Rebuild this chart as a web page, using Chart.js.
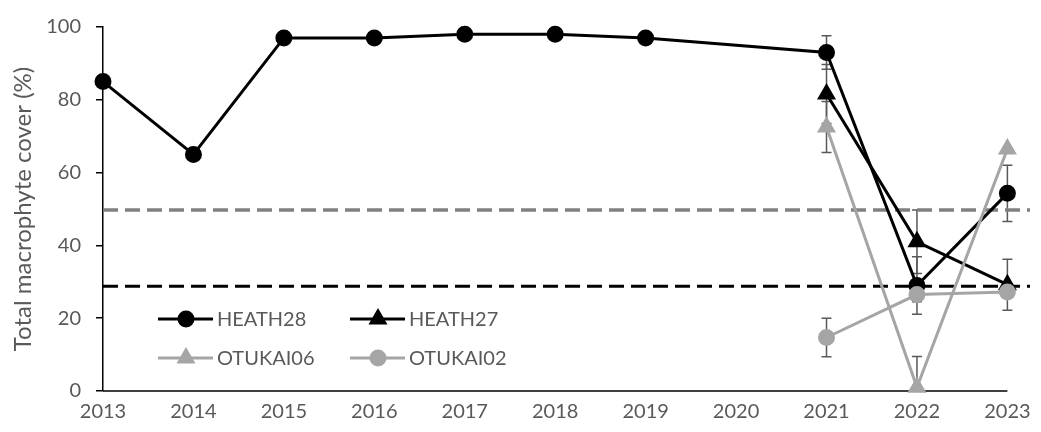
<!DOCTYPE html>
<html>
<head>
<meta charset="utf-8">
<script src="https://cdn.jsdelivr.net/npm/chart.js@4/dist/chart.umd.min.js"></script>
<style>
  html, body { margin: 0; padding: 0; background: #fff; }
  #wrap { width: 1041px; height: 432px; position: relative; }
</style>
</head>
<body>
<div id="wrap"><canvas id="chart"></canvas></div>
<script>
// data
const years = [2013, 2014, 2015, 2016, 2017, 2018, 2019, 2020, 2021, 2022, 2023];
const heath28 = [85, 65, 97, 97, 98, 98, 97, null, 93, 29, 54.3];
const heath28Err = [null, null, null, null, null, null, null, null, 4.6, 7.9, 7.7];
const heath27 = [null, null, null, null, null, null, null, null, 81.6, 41, 29.2];
const heath27Err = [null, null, null, null, null, null, null, null, 8.1, 8.7, 7];
const otukai06 = [null, null, null, null, null, null, null, null, 72.5, 1, 66.5];
const otukai06Err = [null, null, null, null, null, null, null, null, 7, 8.5, 0];
const otukai02 = [null, null, null, null, null, null, null, null, 14.7, 26.5, 27.2];
const otukai02Err = [null, null, null, null, null, null, null, null, 5.3, 2, 1];
const greyLimit = 49.7;
const blackLimit = 28.8;
const yTicks = [0, 20, 40, 60, 80, 100];

const BLACK = '#000000';
const GREY = '#a5a5a5';
const TEXT = '#595959';
const FONT = 'Lato, "Open Sans", sans-serif';

function pts(vals) {
  const out = [];
  vals.forEach((v, i) => { if (v !== null) out.push({ x: years[i], y: v }); });
  return out;
}
function flat(v) {
  return [{ x: years[0], y: v }, { x: years[years.length - 1] + 0.25, y: v }];
}

const series = [
  { label: 'HEATH28', vals: heath28, err: heath28Err, color: BLACK, style: 'circle', r: 7, order: 2 },
  { label: 'HEATH27', vals: heath27, err: heath27Err, color: BLACK, style: 'triangle', r: 8, order: 1 },
  { label: 'OTUKAI06', vals: otukai06, err: otukai06Err, color: GREY, style: 'triangle', r: 8, order: 0 },
  { label: 'OTUKAI02', vals: otukai02, err: otukai02Err, color: GREY, style: 'circle', r: 7, order: -1 }
];

const datasets = series.map(s => ({
  label: s.label,
  data: pts(s.vals),
  borderColor: s.color,
  backgroundColor: s.color,
  pointBackgroundColor: s.color,
  pointBorderColor: s.color,
  pointStyle: s.style,
  pointRadius: s.r,
  borderWidth: 3,
  order: s.order,
  clip: false
}));
datasets.push({
  label: 'limitGrey', data: flat(greyLimit), borderColor: '#808080', borderWidth: 3.5,
  borderDash: [15, 7], pointRadius: 0, order: 10, clip: false
});
datasets.push({
  label: 'limitBlack', data: flat(blackLimit), borderColor: BLACK, borderWidth: 3,
  borderDash: [15, 7], pointRadius: 0, order: 9, clip: false
});

// error bars (below the lines) and the x axis line up to the last year
const errorBars = {
  id: 'errorBars',
  beforeDatasetsDraw(chart) {
    const ctx = chart.ctx;
    const xs = chart.scales.x, ys = chart.scales.y;
    ctx.save();
    ctx.strokeStyle = TEXT;
    ctx.lineWidth = 1.5;
    series.forEach(s => {
      s.err.forEach((e, i) => {
        if (!e) return;
        const v = s.vals[i];
        const px = xs.getPixelForValue(years[i]);
        const top = ys.getPixelForValue(v + e);
        const bot = ys.getPixelForValue(Math.max(v - e, 0));
        ctx.beginPath();
        ctx.moveTo(px, top); ctx.lineTo(px, bot);
        ctx.moveTo(px - 5, top); ctx.lineTo(px + 5, top);
        if (v - e > 0) { ctx.moveTo(px - 5, bot); ctx.lineTo(px + 5, bot); }
        ctx.stroke();
      });
    });
    ctx.strokeStyle = BLACK;
    ctx.lineWidth = 1.5;
    ctx.beginPath();
    ctx.moveTo(xs.getPixelForValue(years[0]), ys.getPixelForValue(0));
    ctx.lineTo(xs.getPixelForValue(years[years.length - 1]), ys.getPixelForValue(0));
    ctx.stroke();
    ctx.restore();
  }
};

// legend inside the plot
const insideLegend = {
  id: 'insideLegend',
  afterDraw(chart) {
    const ctx = chart.ctx;
    const spots = [[158, 319], [350, 319], [158, 358], [350, 358]];
    ctx.save();
    series.forEach((s, n) => {
      const [x0, y0] = spots[n];
      ctx.strokeStyle = s.color;
      ctx.lineWidth = 3;
      ctx.beginPath();
      ctx.moveTo(x0, y0); ctx.lineTo(x0 + 55, y0);
      ctx.stroke();
      ctx.fillStyle = s.color;
      Chart.helpers.drawPoint(ctx, { pointStyle: s.style, radius: s.r, rotation: 0, borderWidth: 1 }, x0 + 28, y0);
      ctx.fillStyle = TEXT;
      ctx.font = '20px ' + FONT;
      ctx.textBaseline = 'middle';
      ctx.fillText(s.label, x0 + 59, y0 + 1);
    });
    ctx.restore();
  }
};

new Chart(document.getElementById('chart'), {
  type: 'line',
  data: { datasets: datasets },
  plugins: [errorBars, insideLegend],
  options: {
    responsive: true,
    maintainAspectRatio: false,
    animation: false,
    layout: { padding: { top: 22, right: 0, bottom: 0, left: 0 } },
    plugins: { legend: { display: false }, tooltip: { enabled: false } },
    scales: {
      x: {
        type: 'linear',
        min: years[0],
        max: years[years.length - 1] + 0.25,
        afterBuildTicks: sc => { sc.ticks = years.map(v => ({ value: v })); },
        grid: { display: false, drawTicks: false },
        border: { display: false },
        ticks: {
          color: TEXT, font: { family: FONT, size: 20 }, padding: 9, maxRotation: 0, autoSkip: false,
          callback: v => String(v)
        },
        afterFit: sc => { sc.height = 41; }
      },
      y: {
        min: 0,
        max: 100,
        afterBuildTicks: sc => { sc.ticks = yTicks.map(v => ({ value: v })); },
        grid: { drawOnChartArea: false, drawTicks: true, tickLength: 7, color: BLACK, lineWidth: 1.5 },
        border: { display: true, color: BLACK, width: 1.5 },
        ticks: { color: TEXT, font: { family: FONT, size: 20 }, padding: 15 },
        title: {
          display: true,
          text: 'Total macrophyte cover (%)',
          color: TEXT,
          font: { family: FONT, size: 24 },
          padding: { top: 9, bottom: 0 }
        },
        afterFit: sc => { sc.width = 103; }
      }
    }
  }
});
</script>
</body>
</html>
